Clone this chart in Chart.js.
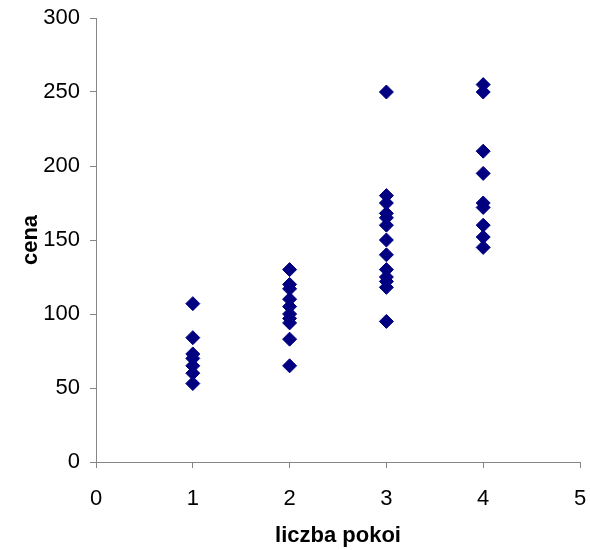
<!DOCTYPE html>
<html>
<head>
<meta charset="utf-8">
<script src="https://cdn.jsdelivr.net/npm/chart.js@4/dist/chart.umd.min.js"></script>
<style>
  html, body { margin: 0; padding: 0; background: #fff; }
  #wrap { width: 590px; height: 550px; }
</style>
</head>
<body>
<div id="wrap"><canvas id="scatter"></canvas></div>
<script>
// liczba pokoi -> cena
const rooms1 = [107, 84, 73, 70, 65, 60, 53];
const rooms2 = [130, 120, 117, 110, 105, 100, 97, 94, 83, 65];
const rooms3 = [250, 180, 175, 168, 165, 160, 150, 140, 130, 125, 122, 118, 95];
const rooms4 = [255, 250, 210, 195, 175, 172, 160, 152, 145];

const xTicks = [0, 1, 2, 3, 4, 5];
const yTicks = [0, 50, 100, 150, 200, 250, 300];

const points = [];
[rooms1, rooms2, rooms3, rooms4].forEach((arr, i) => {
  arr.forEach(v => points.push({ x: i + 1, y: v }));
});

const axisColor = '#868686';
const ctx = document.getElementById('scatter');

const chart = new Chart(ctx, {
  type: 'scatter',
  data: {
    datasets: [{
      label: 'cena',
      data: points,
      pointStyle: 'rectRot',
      pointRadius: 7,
      pointHoverRadius: 7,
      backgroundColor: '#000080',
      borderColor: '#000080',
      borderWidth: 1
    }]
  },
  options: {
    responsive: true,
    maintainAspectRatio: false,
    animation: false,
    layout: { padding: { top: 18, right: 10, left: 0, bottom: 0 } },
    plugins: {
      legend: { display: false },
      tooltip: { enabled: false }
    },
    scales: {
      x: {
        type: 'linear',
        min: 0,
        max: 5,
        afterBuildTicks: s => { s.ticks = xTicks.map(v => ({ value: v })); },
        afterFit: s => { s.height = 88; s.paddingLeft = 0; s.paddingRight = 0; },
        grid: { drawOnChartArea: false, color: axisColor, tickLength: 6 },
        border: { color: axisColor },
        ticks: { color: '#000', padding: 18, font: { family: 'Liberation Sans, Arial', size: 22 } },
        title: {
          display: true,
          text: 'liczba pokoi',
          color: '#000',
          padding: { top: 0, bottom: 1 },
          font: { family: 'Liberation Sans, Arial', size: 22, weight: 'bold' }
        }
      },
      y: {
        min: 0,
        max: 300,
        afterBuildTicks: s => { s.ticks = yTicks.map(v => ({ value: v })); },
        afterFit: s => { s.width = 96; s.paddingTop = 0; s.paddingBottom = 0; },
        grid: { drawOnChartArea: false, color: axisColor, tickLength: 6 },
        border: { color: axisColor },
        ticks: { color: '#000', padding: 10, font: { family: 'Liberation Sans, Arial', size: 22 } },
        title: {
          display: true,
          text: 'cena',
          color: '#000',
          padding: { top: 18, bottom: 0 },
          font: { family: 'Liberation Sans, Arial', size: 22, weight: 'bold' }
        }
      }
    }
  }
});
</script>
</body>
</html>
